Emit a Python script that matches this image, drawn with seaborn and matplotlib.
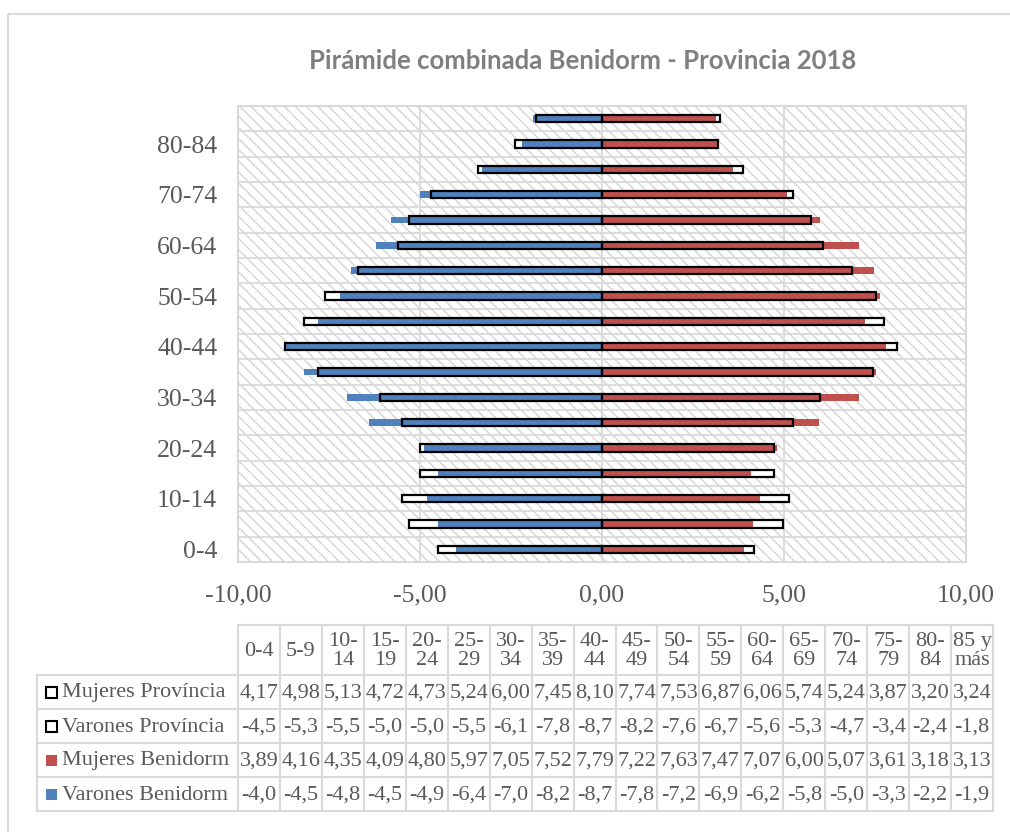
import numpy as np
import pandas as pd
import matplotlib
matplotlib.use("Agg")
import matplotlib.pyplot as plt
from matplotlib.patches import Rectangle
from matplotlib.ticker import FuncFormatter
import seaborn as sns

# ---------------- data ----------------
ages = ["0-4", "5-9", "10-14", "15-19", "20-24", "25-29", "30-34", "35-39", "40-44",
        "45-49", "50-54", "55-59", "60-64", "65-69", "70-74", "75-79", "80-84", "85 y más"]
mujeres_prov = [4.17, 4.98, 5.13, 4.72, 4.73, 5.24, 6.00, 7.45, 8.10, 7.74, 7.53, 6.87,
                6.06, 5.74, 5.24, 3.87, 3.20, 3.24]
varones_prov = [-4.5, -5.3, -5.5, -5.0, -5.0, -5.5, -6.1, -7.8, -8.7, -8.2, -7.6, -6.7,
                -5.6, -5.3, -4.7, -3.4, -2.4, -1.8]
mujeres_ben = [3.89, 4.16, 4.35, 4.09, 4.80, 5.97, 7.05, 7.52, 7.79, 7.22, 7.63, 7.47,
               7.07, 6.00, 5.07, 3.61, 3.18, 3.13]
varones_ben = [-4.0, -4.5, -4.8, -4.5, -4.9, -6.4, -7.0, -8.2, -8.7, -7.8, -7.2, -6.9,
               -6.2, -5.8, -5.0, -3.3, -2.2, -1.9]
row_labels = ["Mujeres Província", "Varones Província", "Mujeres Benidorm", "Varones Benidorm"]
title = "Pirámide combinada Benidorm - Provincia 2018"
xticks = [-10, -5, 0, 5, 10]

# ---------------- style ----------------
BLUE = "#4F81BD"
RED = "#C0504D"
GRID = "#D9D9D9"
TXT = "#595959"
SERIF = ["Liberation Serif", "DejaVu Serif"]

df = pd.DataFrame({"age": ages, "mp": mujeres_prov, "vp": varones_prov,
                   "mb": mujeres_ben, "vb": varones_ben})
order = ages[::-1]

W, H = 1010, 832
fig = plt.figure(figsize=(W / 100, H / 100), dpi=100)
fig.patch.set_facecolor("white")

# overlay axes in pixel coordinates (border + table)
tax = fig.add_axes([0, 0, 1, 1])
tax.set_xlim(0, W)
tax.set_ylim(H, 0)
tax.axis("off")
tax.add_patch(Rectangle((8, 14), 1020, 840, fill=False, edgecolor=GRID, linewidth=1.5))

# ---------------- main plot ----------------
ax = fig.add_axes([238 / W, 1 - 562 / H, 728 / W, 456 / H])
ax.set_facecolor("white")
ax.add_patch(Rectangle((0, 0), 1, 1, transform=ax.transAxes, facecolor="white",
                       edgecolor="#D4D4D4", hatch="\\\\\\", linewidth=0, zorder=0.2))

common = dict(data=df, y="age", order=order, orient="h", errorbar=None, ax=ax, saturation=1)
# provincia: white fill behind
for col in ["mp", "vp"]:
    sns.barplot(x=col, width=0.30, color="white", linewidth=0, zorder=2, **common)
# benidorm
sns.barplot(x="mb", width=0.27, color=RED, linewidth=0, zorder=3, **common)
sns.barplot(x="vb", width=0.27, color=BLUE, linewidth=0, zorder=3, **common)
# provincia outline on top
for col in ["mp", "vp"]:
    sns.barplot(x=col, width=0.30, color="black", fill=False, linewidth=1.6, zorder=4, **common)

ax.set_xlim(-10, 10)
ax.set_ylim(len(ages) - 0.5, -0.5)
ax.set_xlabel("")
ax.set_ylabel("")
ax.set_xticks(xticks)
ax.xaxis.set_major_formatter(FuncFormatter(lambda v, p: f"{v:.2f}".replace(".", ",")))
ax.set_yticks(range(len(order)))
ax.set_yticklabels([lab if ages.index(lab) % 2 == 0 else "" for lab in order])
ax.set_yticks(np.arange(-0.5, len(ages), 1.0), minor=True)
ax.set_axisbelow(True)
ax.grid(False)
ax.grid(True, which="minor", axis="y", color=GRID, linewidth=1.3, zorder=0.5)
ax.grid(True, which="major", axis="x", color=GRID, linewidth=1.3, zorder=0.5)
ax.tick_params(axis="both", which="both", length=0)
ax.tick_params(axis="y", pad=15)
ax.tick_params(axis="x", pad=16)
for lab in ax.get_xticklabels() + ax.get_yticklabels():
    lab.set_fontfamily(SERIF)
    lab.set_fontsize(18.5)
    lab.set_color(TXT)
for s in ax.spines.values():
    s.set_color(GRID)
    s.set_linewidth(1.5)

fig.text(583 / W, 1 - 61 / H, title, ha="center", va="center", fontsize=18.5,
         fontweight="bold", color="#7F7F7F", family=["Lato", "DejaVu Sans"])

# ---------------- data table ----------------
x0, x1 = 238, 993
lx = 37
ncol = len(ages)
cw = (x1 - x0) / ncol
hy0, hy1 = 625, 675
rh = 34
rows_y = [hy1 + i * rh for i in range(len(row_labels) + 1)]
lw = 1.5
# horizontal lines
tax.plot([x0, x1], [hy0, hy0], color=GRID, lw=lw)
for y in rows_y:
    tax.plot([lx, x1], [y, y], color=GRID, lw=lw)
# vertical lines
tax.plot([lx, lx], [hy1, rows_y[-1]], color=GRID, lw=lw)
for i in range(ncol + 1):
    x = x0 + i * cw
    tax.plot([x, x], [hy0, rows_y[-1]], color=GRID, lw=lw)

def header(a):
    if a.startswith("85"):
        return "85 y\nmás"
    if len(a) > 3:
        p = a.split("-")
        return p[0] + "-\n" + p[1]
    return a

tfs = 16
for i, a in enumerate(ages):
    tax.text(x0 + (i + 0.5) * cw, (hy0 + hy1) / 2 + 1, header(a), ha="center", va="center",
             fontsize=tfs, family=SERIF, color=TXT, linespacing=1.0)

series = [(mujeres_prov, 2, "white", "black"), (varones_prov, 1, "white", "black"),
          (mujeres_ben, 2, RED, RED), (varones_ben, 1, BLUE, BLUE)]
for r, (vals, nd, fc, ec) in enumerate(series):
    yc = rows_y[r] + rh / 2
    for i, v in enumerate(vals):
        tax.text(x0 + (i + 0.5) * cw, yc + 1, f"{v:.{nd}f}".replace(".", ","), ha="center",
                 va="center", fontsize=tfs, family=SERIF, color=TXT)
    tax.add_patch(Rectangle((46, yc - 5), 11, 11, facecolor=fc, edgecolor=ec,
                            linewidth=1.5 if fc == "white" else 0))
    tax.text(62, yc + 1, row_labels[r], ha="left", va="center", fontsize=tfs,
             family=SERIF, color=TXT)

fig.savefig("out.png", dpi=100, facecolor="white")
